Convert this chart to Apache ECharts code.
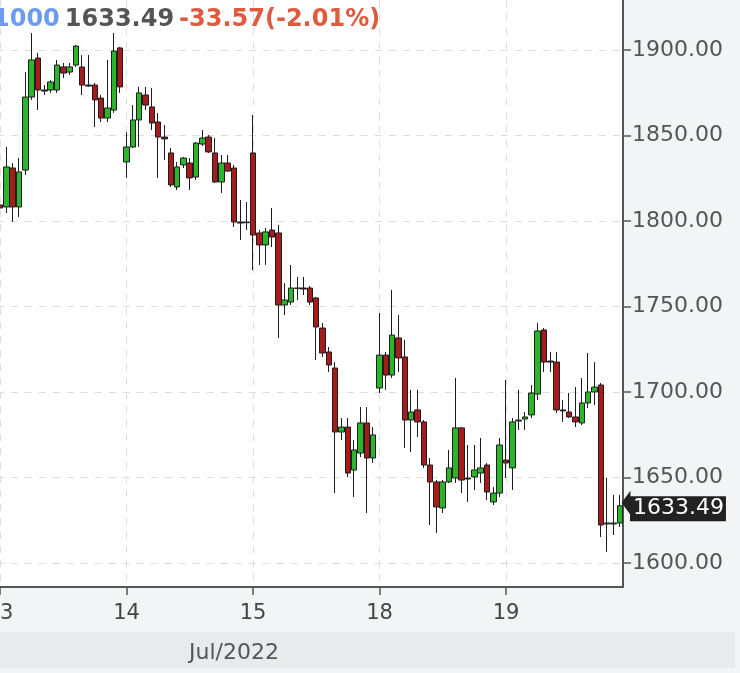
<!DOCTYPE html>
<html>
<head>
<meta charset="utf-8">
<style>html,body{margin:0;padding:0;background:#f3f4f6}#c{width:740px;height:673px}</style>
<script src="https://cdn.jsdelivr.net/npm/echarts@6.0.0/dist/echarts.min.js"></script>
</head>
<body>
<div id="c"></div>
<script>
const days = ['13', '14', '15', '18', '19'];
const candlesPerDay = [20, 20, 20, 20, 19];
const monthLabel = 'Jul/2022';
const headerVolume = '1000';
const headerChange = '-33.57(-2.01%)';
const yTicks = [1600, 1650, 1700, 1750, 1800, 1850, 1900];
const yMin = 1585.96;
const yMax = 1929.24;

const opens = [
 1809.4,1808.2,1831.0,1808.2,1829.8,1872.5,1895.3,1876.6,1876.6,1876.6,1890.1,1887.1,1891.2,1890.1,1879.5,1879.5,1871.9,1860.2,1864.9,1901.2,
 1834.5,1843.3,1859.1,1873.7,1866.7,1857.9,1849.1,1839.8,1819.9,1832.8,1833.9,1825.7,1845.0,1849.1,1839.8,1822.8,1833.9,1831.0,1799.4,1799.4,
 1839.8,1793.0,1786.0,1794.7,1793.0,1750.9,1752.6,1760.8,1760.8,1760.8,1755.0,1737.4,1723.4,1714.0,1676.6,1679.5,1654.4,1664.3,1681.9,1661.4,
 1702.3,1721.6,1709.9,1731.6,1720.5,1683.6,1689.5,1682.5,1657.3,1647.4,1632.2,1647.4,1649.7,1679.0,1649.7,1650.3,1652.6,1657.3,1635.7,1640.9,
 1660.2,1655.6,1683.0,1684.2,1686.6,1698.8,1736.3,1718.1,1717.5,1689.5,1688.3,1685.4,1681.9,1693.6,1700.0,1704.1,1623.4,1622.8,1623.4
];
const closes = [
 1807.6,1831.6,1808.2,1828.7,1872.5,1894.2,1876.6,1876.0,1881.3,1891.2,1886.5,1890.1,1902.3,1879.5,1878.9,1870.8,1860.2,1866.1,1899.4,1878.4,
 1843.3,1859.1,1874.9,1867.8,1857.3,1849.1,1848.0,1821.1,1831.6,1836.8,1825.2,1845.6,1848.5,1840.4,1822.8,1833.9,1829.2,1799.4,1798.8,1799.0,
 1791.8,1786.0,1793.6,1790.6,1750.9,1753.8,1760.8,1760.6,1760.2,1752.6,1738.0,1722.8,1715.8,1676.6,1679.5,1652.6,1666.1,1681.9,1661.4,1674.9,
 1721.6,1709.9,1733.3,1719.9,1683.6,1688.3,1682.5,1657.3,1647.4,1632.8,1647.4,1655.6,1679.0,1648.5,1649.1,1654.4,1655.6,1641.5,1640.9,1669.0,
 1658.5,1682.5,1683.6,1685.4,1699.4,1735.7,1717.5,1717.5,1689.5,1688.9,1685.4,1682.5,1693.6,1700.0,1702.9,1622.2,1622.8,1623.4,1633.49
];
const lows = [
 1794.7,1804.7,1799.4,1802.3,1826.9,1870.8,1864.9,1873.7,1874.9,1874.9,1883.6,1885.4,1890.1,1873.7,1878.4,1855.0,1857.9,1857.9,1863.2,1874.9,
 1825.2,1842.7,1843.3,1864.9,1853.2,1825.2,1835.7,1819.9,1818.1,1831.0,1818.1,1824.0,1843.9,1839.8,1822.2,1816.4,1828.7,1796.5,1788.9,1794.7,
 1771.3,1774.3,1774.3,1784.8,1731.6,1745.0,1750.9,1753.8,1756.7,1750.9,1718.7,1720.5,1711.7,1640.9,1671.9,1650.3,1638.6,1662.0,1629.2,1658.5,
 1699.4,1701.2,1708.2,1711.7,1667.3,1664.9,1673.7,1655.6,1622.2,1617.5,1629.2,1646.8,1646.8,1640.9,1635.7,1642.7,1646.8,1636.8,1633.9,1638.6,
 1649.7,1642.7,1677.8,1677.8,1684.8,1695.3,1711.7,1711.7,1687.7,1682.5,1684.8,1679.5,1680.7,1690.6,1692.4,1615.2,1606.4,1616.4,1621.1
];
const highs = [
 1818.1,1843.3,1833.9,1836.8,1887.1,1909.9,1898.3,1879.5,1882.5,1894.2,1892.4,1892.4,1902.9,1897.1,1897.1,1880.7,1873.7,1894.2,1909.9,1901.8,
 1852.0,1867.8,1878.4,1878.4,1877.8,1863.2,1856.1,1842.7,1834.5,1837.4,1836.8,1846.2,1853.2,1850.3,1848.5,1838.6,1838.6,1832.8,1812.3,1811.1,
 1862.0,1794.7,1795.9,1807.6,1797.7,1763.7,1774.3,1767.3,1767.3,1762.0,1755.6,1740.4,1726.3,1717.5,1684.8,1684.8,1671.9,1691.2,1691.2,1679.5,
 1746.2,1723.4,1759.7,1745.0,1730.4,1701.2,1701.2,1683.6,1661.4,1648.5,1648.5,1666.1,1708.2,1679.5,1669.0,1669.0,1673.1,1658.5,1644.4,1673.1,
 1707.0,1684.8,1701.2,1688.3,1704.1,1740.4,1737.4,1723.4,1723.4,1695.3,1699.4,1702.9,1708.2,1722.8,1717.5,1705.3,1649.7,1639.8,1639.8
];

// build categories and day-start flags
const categories = [];
const dayStart = {};
days.forEach((d, di) => {
  for (let k = 0; k < candlesPerDay[di]; k++) {
    if (k === 0) dayStart[categories.length] = d;
    categories.push(d + '-' + k);
  }
});
const isStart = (i) => dayStart[i] !== undefined;
const ohlc = opens.map((o, i) => [o, closes[i], lows[i], highs[i]]);
const lastClose = closes[closes.length - 1];

const FONT = 'DejaVu Sans';
const chart = echarts.init(document.getElementById('c'), null, {renderer: 'canvas'});
chart.setOption({
  animation: false,
  backgroundColor: '#f3f4f6',
  title: {
    left: -12, top: 3,
    text: '{a|' + headerVolume + '} {b|' + lastClose.toFixed(2) + '} {c|' + headerChange + '}',
    textStyle: {
      rich: {
        a: {color: '#6b9cf0', fontSize: 24, fontWeight: 'bold', fontFamily: FONT},
        b: {color: '#555555', fontSize: 24, fontWeight: 'bold', fontFamily: FONT},
        c: {color: '#e05a3e', fontSize: 24, fontWeight: 'bold', fontFamily: FONT}
      }
    }
  },
  grid: {left: -3.16, right: 117, top: 0, bottom: 86, outerBoundsMode: 'none', containLabel: false, show: true, backgroundColor: '#ffffff', borderWidth: 0},
  xAxis: {
    type: 'category', data: categories, boundaryGap: true,
    axisLine: {lineStyle: {color: '#555', width: 2}},
    axisTick: {show: true, alignWithLabel: true, interval: (i) => isStart(i), length: 8, lineStyle: {color: '#555', width: 1.5}},
    axisLabel: {interval: (i) => isStart(i), formatter: (v, i) => dayStart[i] || '', color: '#444', fontSize: 21, margin: 16, fontFamily: FONT, hideOverlap: false},
    splitLine: {show: true, alignWithLabel: true, interval: (i) => isStart(i), lineStyle: {color: '#dddddd', type: [7, 7]}}
  },
  yAxis: {
    type: 'value', position: 'right', min: yMin, max: yMax, scale: true,
    axisLine: {show: true, lineStyle: {color: '#555', width: 2}},
    axisTick: {show: true, length: 8, customValues: yTicks, lineStyle: {color: '#555', width: 1.5}},
    axisLabel: {customValues: yTicks, formatter: (v) => v.toFixed(2), color: '#555', fontSize: 22, margin: 9, padding: [4, 0, 0, 0], fontFamily: FONT},
    splitLine: {show: true, lineStyle: {color: '#dddddd', type: [7, 7]}}
  },
  graphic: [
    {type: 'rect', shape: {x: 0, y: 632, width: 735, height: 36}, style: {fill: '#e9eaec'}, z: 0},
    {type: 'text', style: {x: 234, y: 653, text: monthLabel, textAlign: 'center', textVerticalAlign: 'middle', fill: '#555', font: '22px "DejaVu Sans"'}, z: 1}
  ],
  series: [{
    type: 'candlestick',
    data: ohlc,
    barWidth: 6,
    itemStyle: {color: '#2bb52b', color0: '#a61b1b', borderColor: '#1e1e1e', borderColor0: '#1e1e1e', borderWidth: 1},
    markLine: {
      silent: true, animation: false,
      symbol: ['none', 'triangle'], symbolSize: [24, 9], symbolRotate: 90, symbolOffset: [0, 3],
      lineStyle: {color: '#222', width: 0, type: 'solid'},
      label: {show: true, position: 'end', distance: 7, offset: [0, 3], formatter: (p) => p.value.toFixed(2), backgroundColor: '#222', color: '#fff', fontSize: 22, padding: [2, 2, 1, 3], fontFamily: FONT},
      data: [{yAxis: lastClose}]
    }
  }]
});
</script>
</body>
</html>
